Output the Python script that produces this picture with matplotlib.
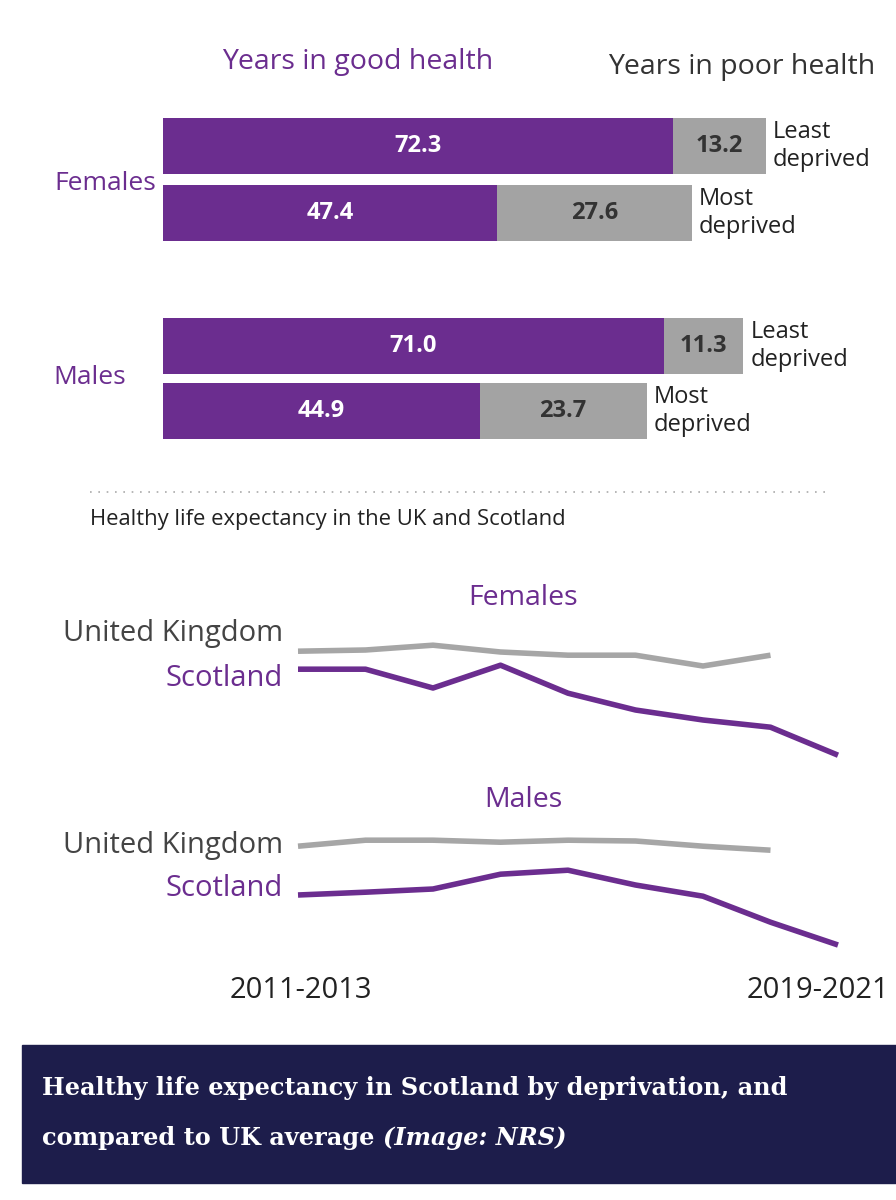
import matplotlib.pyplot as plt
from matplotlib.patches import Rectangle

PURPLE = "#6b2d8f"
GREY = "#a3a3a3"
LINE_GREY = "#a6a6a6"

# deprivation bars: (group, level, good, poor)
bar_groups = ["Females", "Females", "Males", "Males"]
bar_levels = ["Least\ndeprived", "Most\ndeprived", "Least\ndeprived", "Most\ndeprived"]
good_years = [72.3, 47.4, 71.0, 44.9]
poor_years = [13.2, 27.6, 11.3, 23.7]

# healthy life expectancy trend, 2011-2013 ... 2019-2021
periods = ["2011-2013", "2012-2014", "2013-2015", "2014-2016", "2015-2017",
           "2016-2018", "2017-2019", "2018-2020", "2019-2021"]
fem_uk = [63.0, 63.03, 63.15, 62.98, 62.9, 62.9, 62.63, 62.9]
fem_scot = [62.55, 62.55, 62.08, 62.65, 61.95, 61.53, 61.28, 61.1, 60.4]
male_uk = [61.0, 61.15, 61.15, 61.1, 61.15, 61.13, 61.0, 60.9]
male_scot = [59.78, 59.85, 59.93, 60.3, 60.4, 60.03, 59.75, 59.1, 58.53]

plt.rcParams['font.family'] = ['Open Sans', 'DejaVu Sans']
fig = plt.figure(figsize=(8.96, 12), dpi=100)
W, H = 896, 1200

# base axes in pixel coordinates for free text
base = fig.add_axes([0, 0, 1, 1])
base.set_xlim(0, W)
base.set_ylim(H, 0)
base.axis("off")

def px_axes(x0, y0, x1, y1):
    return fig.add_axes([x0 / W, 1 - y1 / H, (x1 - x0) / W, (y1 - y0) / H])

# ---- bars ----
bax = px_axes(163, 100, 896, 460)
bax.set_xlim(0, (896 - 163) / 7.05)
bax.set_ylim(460, 100)
bax.axis("off")
centres = [146, 213, 346, 411]
for yc, g, p, lvl in zip(centres, good_years, poor_years, bar_levels):
    bax.barh(yc, g, height=56, color=PURPLE)
    bax.barh(yc, p, left=g, height=56, color=GREY)
    bax.text(g / 2, yc, f"{g:.1f}", color="white", fontsize=17, weight="bold",
             ha="center", va="center")
    bax.text(g + p / 2, yc, f"{p:.1f}", color="#333333", fontsize=17, weight="bold",
             ha="center", va="center")
    bax.text(g + p + 1.0, yc, lvl, color="#222222", fontsize=17, ha="left",
             va="center", linespacing=1.25)

base.text(358, 62, "Years in good health", color=PURPLE, fontsize=20.5, ha="center", va="center")
base.text(742, 67, "Years in poor health", color="#333333", fontsize=20.5, ha="center", va="center")
base.text(105, 183, "Females", color=PURPLE, fontsize=19, ha="center", va="center")
base.text(90, 378, "Males", color=PURPLE, fontsize=19, ha="center", va="center")

base.plot([90, 830], [492, 492], color="#aaaaaa", lw=1.2, ls=(0, (1, 4)))
base.text(90, 519, "Healthy life expectancy in the UK and Scotland", fontsize=15.8,
          color="#222222", ha="left", va="center")

# ---- lines ----
step = 67.5
xl = (-298 / step, (896 - 298) / step)

def trend(y0, y1, top, bottom, uk, scot, title, ty):
    ax = px_axes(0, y0, 896, y1)
    ax.set_xlim(*xl)
    ax.set_ylim(bottom, top)
    ax.axis("off")
    ax.plot(range(len(uk)), uk, color=LINE_GREY, lw=4, solid_capstyle="butt")
    ax.plot(range(len(scot)), scot, color=PURPLE, lw=4, solid_capstyle="butt")
    base.text(523, ty, title, color=PURPLE, fontsize=20.5, ha="center", va="center")

trend(620, 770, 63.78, 60.03, fem_uk, fem_scot, "Females", 598)
trend(815, 965, 61.78, 58.03, male_uk, male_scot, "Males", 800)

for ty in (633, 845):
    base.text(283, ty, "United Kingdom", color="#444444", fontsize=21, ha="right", va="center")
for ty in (679, 888):
    base.text(283, ty, "Scotland", color=PURPLE, fontsize=21, ha="right", va="center")
base.text(301, 990, periods[0], color="#222222", fontsize=21, ha="center", va="center")
base.text(818, 990, periods[-1], color="#222222", fontsize=21, ha="center", va="center")

# ---- caption banner ----
base.add_patch(Rectangle((22, 1045), W - 22, 138, color="#1d1d4b"))
base.text(42, 1088, "Healthy life expectancy in Scotland by deprivation, and",
          color="white", fontsize=17.3, weight="bold", family="DejaVu Serif",
          ha="left", va="center")
t = base.text(42, 1138, "compared to UK average ", color="white", fontsize=17.3,
              weight="bold", family="DejaVu Serif", ha="left", va="center")
fig.canvas.draw()
bb = t.get_window_extent()
base.annotate("(Image: NRS)", xy=(bb.x1, bb.y0), xycoords="figure pixels",
              color="white", fontsize=17.3, weight="bold", style="italic",
              family="DejaVu Serif", ha="left", va="bottom")

fig.savefig("out.png", dpi=100)
